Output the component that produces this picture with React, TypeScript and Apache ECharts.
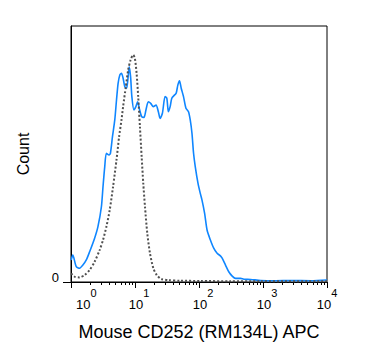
import React, { useEffect, useRef } from "react";
import * as echarts from "echarts";

// x positions are log10(intensity); y is count as % of plot height
const blueLog = [0.003, 0.028, 0.082, 0.134, 0.186, 0.239, 0.291, 0.369, 0.421, 0.475, 0.5, 0.527, 0.553, 0.594, 0.616, 0.648, 0.684, 0.711, 0.736, 0.763, 0.789, 0.814, 0.841, 0.868, 0.893, 0.909, 0.931, 0.951, 0.983, 1.014, 1.041, 1.066, 1.104, 1.14, 1.171, 1.208, 1.245, 1.286, 1.329, 1.365, 1.392, 1.428, 1.47, 1.497, 1.522, 1.549, 1.575, 1.616, 1.643, 1.67, 1.695, 1.722, 1.758, 1.796, 1.836, 1.863, 1.89, 1.915, 1.942, 1.984, 2.02, 2.047, 2.088, 2.126, 2.178, 2.23, 2.283, 2.335, 2.362, 2.414, 2.465, 2.519, 2.571, 2.649, 2.701, 2.807, 2.964, 3.2, 3.435, 3.75, 4.0];
const blueCount = [8.6, 10.5, 6.0, 5.4, 6.6, 8.6, 11.8, 17.1, 21.6, 29.4, 37.2, 45.0, 50.3, 49.6, 50.3, 56.8, 63.3, 71.1, 77.6, 80.9, 81.5, 79.6, 76.3, 75.7, 80.2, 84.1, 80.2, 72.4, 67.2, 68.5, 70.4, 67.9, 64.6, 64.3, 67.2, 70.4, 69.8, 68.5, 69.1, 66.5, 63.9, 65.9, 72.4, 71.8, 66.5, 68.5, 71.8, 73.0, 73.7, 77.0, 78.6, 75.7, 72.4, 67.9, 66.5, 63.3, 58.1, 50.3, 45.0, 38.6, 34.6, 32.0, 26.8, 20.3, 16.4, 13.2, 11.2, 10.2, 9.3, 6.6, 4.0, 2.3, 1.4, 1.4, 1.1, 1.0, 0.6, 0.5, 0.6, 0.5, 0.8];

const grayLog = [0.003, 0.055, 0.134, 0.212, 0.291, 0.369, 0.448, 0.5, 0.553, 0.605, 0.657, 0.711, 0.752, 0.789, 0.814, 0.857, 0.893, 0.931, 0.972, 0.998, 1.025, 1.05, 1.077, 1.104, 1.129, 1.156, 1.192, 1.234, 1.286, 1.34, 1.392, 1.418, 1.522, 1.706, 2.02, 2.49, 2.96, 4.0];
const grayCount = [3.4, 2.1, 1.8, 2.7, 4.7, 7.9, 12.5, 16.4, 21.6, 28.1, 37.2, 47.7, 56.8, 63.3, 68.5, 76.3, 82.8, 86.7, 88.7, 87.4, 81.5, 72.4, 60.7, 48.9, 38.6, 29.4, 19.0, 11.2, 5.4, 2.7, 1.4, 1.1, 0.7, 0.5, 0.4, 0.3, 0.3, 0.3];

const decadeExponents = [0, 1, 2, 3, 4];
const minorMultipliers = [2, 3, 4, 5, 6, 7, 8, 9];
const xTitle = "Mouse CD252 (RM134L) APC";
const yTitle = "Count";
const yTickLabels = ["0"];

const FONT = "'Liberation Sans', Arial, sans-serif";

export default function App() {
  const ref = useRef<HTMLDivElement>(null);

  useEffect(() => {
    if (!ref.current) return;
    const chart = echarts.init(ref.current, null, { renderer: "svg" });

    const minorTicks: number[] = [];
    decadeExponents.slice(0, -1).forEach((d) => {
      minorMultipliers.forEach((m) => minorTicks.push(d + Math.log10(m)));
    });

    const minExp = decadeExponents[0];
    const maxExp = decadeExponents[decadeExponents.length - 1];

    chart.setOption({
      animation: false,
      textStyle: { fontFamily: FONT },
      grid: {
        left: 71,
        right: 48,
        top: 26,
        bottom: 81,
        show: true,
        borderColor: "#000",
        borderWidth: 1,
      },
      xAxis: [
        {
          type: "value",
          min: minExp,
          max: maxExp,
          interval: 1,
          position: "bottom",
          name: xTitle,
          nameLocation: "middle",
          nameGap: 41,
          nameTextStyle: { fontSize: 18, color: "#000", fontFamily: FONT },
          axisLine: { show: true, lineStyle: { color: "#000", width: 1 } },
          axisTick: { show: true, length: 6, lineStyle: { color: "#000" } },
          splitLine: { show: false },
          axisLabel: {
            margin: 5.5,
            color: "#000",
            alignMinLabel: "left",
            formatter: (v: number) => {
              const e = Math.round(v);
              if (e === minExp) return `{b0|10}{s|${e}}`;
              if (e === maxExp) return `{b4|10}{s|${e}}`;
              return `{b|10}{s|${e}}`;
            },
            rich: {
              b: { fontSize: 13, lineHeight: 23, verticalAlign: "bottom", padding: [0, 0, 0, 8], color: "#000", fontFamily: FONT },
              b0: { fontSize: 13, lineHeight: 23, verticalAlign: "bottom", padding: [0, 0, 0, 5], color: "#000", fontFamily: FONT },
              b4: { fontSize: 13, lineHeight: 23, verticalAlign: "bottom", padding: [0, 0, 0, 0], color: "#000", fontFamily: FONT },
              s: { fontSize: 11, lineHeight: 11, verticalAlign: "top", color: "#000", fontFamily: FONT },
            },
          },
        },
        {
          type: "value",
          min: minExp,
          max: maxExp,
          position: "bottom",
          axisLine: { show: false },
          axisLabel: { show: false },
          splitLine: { show: false },
          axisTick: {
            show: true,
            length: 3,
            customValues: minorTicks,
            lineStyle: { color: "#000" },
          },
        },
      ],
      yAxis: {
        type: "value",
        min: 0,
        max: 100,
        name: yTitle,
        nameLocation: "middle",
        nameGap: 40,
        nameRotate: 90,
        nameTextStyle: { fontSize: 16, color: "#000", fontFamily: FONT },
        axisLine: { show: true, lineStyle: { color: "#000", width: 1 } },
        splitLine: { show: false },
        axisTick: { show: true, length: 8, customValues: [0], lineStyle: { color: "#000" } },
        axisLabel: {
          customValues: [0],
          formatter: () => yTickLabels[0],
          fontSize: 13,
          lineHeight: 9,
          color: "#000",
          margin: 12,
          verticalAlign: "bottom",
          fontFamily: FONT,
        },
      },
      series: [
        {
          type: "line",
          xAxisIndex: 0,
          data: blueLog.map((x, i) => [x, blueCount[i]]),
          showSymbol: false,
          smooth: 0.25,
          lineStyle: { color: "#0f86ff", width: 1.6 },
          silent: true,
        },
        {
          type: "line",
          xAxisIndex: 0,
          data: grayLog.map((x, i) => [x, grayCount[i]]),
          showSymbol: false,
          smooth: 0.25,
          lineStyle: { color: "#505050", width: 2, type: [2, 2] },
          silent: true,
        },
      ],
    });

    return () => chart.dispose();
  }, []);

  return (
    <div
      ref={ref}
      style={{ position: "fixed", left: 0, top: 0, width: 375, height: 363, background: "#fff" }}
    />
  );
}
